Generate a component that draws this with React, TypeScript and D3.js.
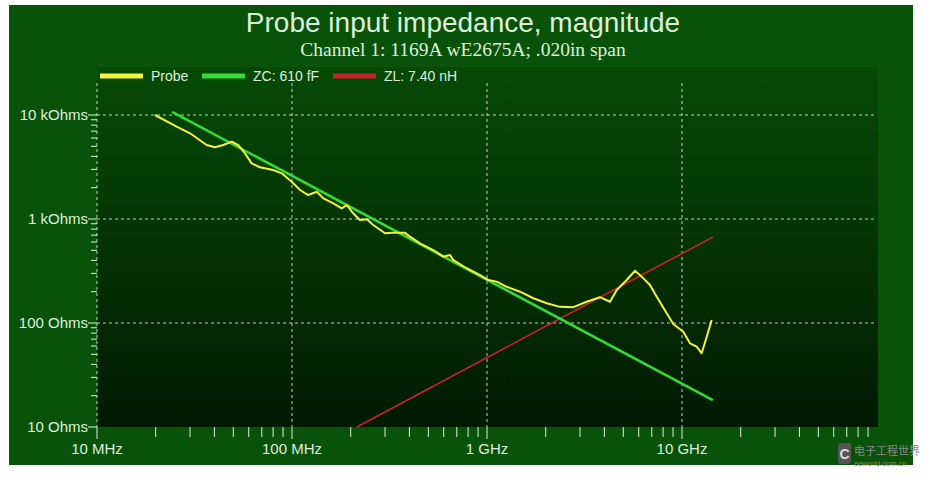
import * as d3 from 'd3';

// Probe |Z| trace (frequency in MHz, magnitude in Ohms)
const PROBE_FREQ_MHZ = [
  19.8, 25.6, 30.0, 36.5, 40.3, 44.4, 49.1, 53.0, 57.4, 62.1, 68.5, 80.2, 88.6, 99.7,
  110, 121, 134, 145, 163, 180, 191, 206, 223, 242, 261, 300, 325, 380, 403, 453, 530,
  597, 646, 672, 787, 921, 1016, 1121, 1262, 1476, 1728, 2024, 2368, 2771, 3246, 3797,
  4274, 4626, 5205, 5741, 6214, 6853, 7420, 8347, 9023, 10150, 10990, 11900, 12620,
  13390, 14200,
];
const PROBE_OHMS = [
  10000, 7720, 6670, 5145, 4890, 5145, 5540, 5145, 4280, 3430, 3140, 2960, 2750, 2280,
  1900, 1700, 1830, 1580, 1415, 1267, 1363, 1134, 978, 993, 876, 729, 738, 738, 676, 584,
  503, 434, 451, 403, 336, 289, 259, 250, 223, 200, 173, 155, 143, 142, 160, 177, 160,
  208, 259, 318, 279, 232, 179, 124, 97.7, 82.5, 63.8, 59.2, 51.1, 73.8, 106.9,
];

// ideal capacitor / inductor reference lines (end points)
const ZC_FREQ_MHZ = [24.3, 14400];
const ZC_OHMS = [10700, 18.1];
const ZL_FREQ_MHZ = [215, 14400];
const ZL_OHMS = [10, 670];

const X_TICK_VALUES = [10, 100, 1000, 10000];
const X_TICK_LABELS = ['10 MHz', '100 MHz', '1 GHz', '10 GHz'];
const Y_TICK_VALUES = [10, 100, 1000, 10000];
const Y_TICK_LABELS = ['10 Ohms', '100 Ohms', '1 kOhms', '10 kOhms'];

const LEGEND = [
  { label: 'Probe', color: '#f4f23c' },
  { label: 'ZC: 610 fF', color: '#36d936' },
  { label: 'ZL: 7.40 nH', color: '#cc2424' },
];

const W = 932;
const H = 479;
const left = 97;
const right = 877;
const bottom = 427;
const gridTop = 83;
const bgTop = 67;

const TEXT = '#dcefdc';
const AXIS_FONT = 'Liberation Sans, Arial, sans-serif';

export default function App() {
  const x = d3.scaleLog().domain([10, 100000]).range([left, right]);
  const y = d3.scaleLog().domain([10, 10000]).range([bottom, 115]);

  const line = d3
    .line<[number, number]>()
    .x((d) => x(d[0]))
    .y((d) => y(d[1]));

  const probe = line(PROBE_FREQ_MHZ.map((f, i) => [f, PROBE_OHMS[i]]));
  const zc = line(ZC_FREQ_MHZ.map((f, i) => [f, ZC_OHMS[i]]));
  const zl = line(ZL_FREQ_MHZ.map((f, i) => [f, ZL_OHMS[i]]));

  const xMinor = x.ticks().filter((t) => !X_TICK_VALUES.includes(t) && t < 100000);
  const yMinor = y.ticks().filter((t) => !Y_TICK_VALUES.includes(t));

  return (
    <svg
      width={W}
      height={H}
      style={{ position: 'absolute', left: 0, top: 0, background: '#ffffff' }}
    >
      <defs>
        <linearGradient id="plotBg" x1="0" y1="0" x2="0" y2="1">
          <stop offset="0" stopColor="#064a06" />
          <stop offset="0.5" stopColor="#043304" />
          <stop offset="1" stopColor="#021a02" />
        </linearGradient>
      </defs>

      <rect x={9} y={5} width={904} height={460} fill="#095209" />
      <rect x={left} y={bgTop} width={right - left + 1} height={bottom - bgTop} fill="url(#plotBg)" />

      <text
        x={463}
        y={32}
        textAnchor="middle"
        fill={TEXT}
        fontSize={28}
        fontFamily="Liberation Sans, Arial, sans-serif"
      >
        Probe input impedance, magnitude
      </text>
      <text
        x={463}
        y={56}
        textAnchor="middle"
        fill={TEXT}
        fontSize={19.5}
        fontFamily="Liberation Serif, Times New Roman, serif"
      >
        Channel 1: 1169A wE2675A; .020in span
      </text>

      {/* grid */}
      <g stroke="#e6e6e6" strokeDasharray="3,3" strokeWidth={1} opacity={0.85}>
        {X_TICK_VALUES.map((v) => (
          <line key={`gx${v}`} x1={x(v)} x2={x(v)} y1={gridTop} y2={bottom} />
        ))}
        {Y_TICK_VALUES.filter((v) => v > 10).map((v) => (
          <line key={`gy${v}`} x1={left} x2={right} y1={y(v)} y2={y(v)} />
        ))}
      </g>

      {/* axis ticks */}
      <g stroke={TEXT} strokeWidth={1}>
        {xMinor.map((v) => (
          <line key={`xm${v}`} x1={x(v)} x2={x(v)} y1={bottom} y2={bottom + 10} />
        ))}
        {X_TICK_VALUES.map((v) => (
          <line key={`xM${v}`} x1={x(v)} x2={x(v)} y1={bottom} y2={bottom + 12} />
        ))}
        {yMinor.map((v) => (
          <line key={`ym${v}`} x1={left - 6} x2={left} y1={y(v)} y2={y(v)} />
        ))}
        {Y_TICK_VALUES.map((v) => (
          <line key={`yM${v}`} x1={left - 9} x2={left} y1={y(v)} y2={y(v)} />
        ))}
      </g>

      {X_TICK_VALUES.map((v, i) => (
        <text
          key={`xl${v}`}
          x={x(v)}
          y={454}
          textAnchor="middle"
          fill={TEXT}
          fontSize={15}
          fontFamily={AXIS_FONT}
        >
          {X_TICK_LABELS[i]}
        </text>
      ))}
      {Y_TICK_VALUES.map((v, i) => (
        <text
          key={`yl${v}`}
          x={left - 9}
          y={y(v) + 5}
          textAnchor="end"
          fill={TEXT}
          fontSize={15}
          fontFamily={AXIS_FONT}
        >
          {Y_TICK_LABELS[i]}
        </text>
      ))}

      {/* series */}
      <path d={zl ?? ''} fill="none" stroke="#cc2424" strokeWidth={1.6} />
      <path d={zc ?? ''} fill="none" stroke="#36d936" strokeWidth={2.6} />
      <path d={probe ?? ''} fill="none" stroke="#f4f23c" strokeWidth={2} strokeLinejoin="round" />

      {/* legend */}
      {LEGEND.map((item, i) => {
        const lx = [100, 202, 333][i];
        return (
          <g key={item.label}>
            <line x1={lx} x2={lx + 43} y1={76} y2={76} stroke={item.color} strokeWidth={5} />
            <text x={lx + 51} y={81} fill={TEXT} fontSize={14} fontFamily={AXIS_FONT}>
              {item.label}
            </text>
          </g>
        );
      })}

      {/* watermark */}
      <g>
        <rect x={838} y={443} width={13} height={21} rx={3} fill="#555" />
        <text x={844.5} y={459} textAnchor="middle" fill="#ddd" fontSize={14} fontWeight="bold" fontFamily={AXIS_FONT}>
          C
        </text>
        <text x={854} y={455} fill="#8a8a8a" fontSize={11} fontFamily="Noto Sans CJK SC">
          电子工程世界
        </text>
        <text x={854} y={466} fill="#b07a3a" fontSize={7.5} fontFamily={AXIS_FONT}>
          eeworld.com.cn
        </text>
      </g>
    </svg>
  );
}
